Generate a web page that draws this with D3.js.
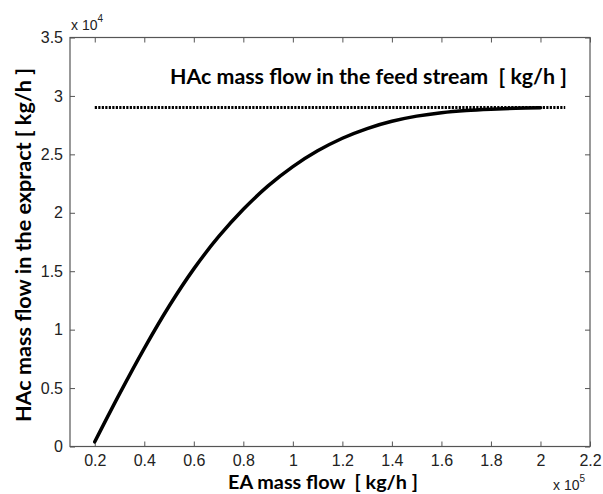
<!DOCTYPE html>
<html>
<head>
<meta charset="utf-8">
<script src="https://cdn.jsdelivr.net/npm/d3@7"></script>
<style>
  body { margin: 0; background: #fff; }
  svg { display: block; }
</style>
</head>
<body>
<div id="chart"></div>
<script>
// EA mass flow (x 10^5 kg/h) vs HAc mass flow in extract (x 10^4 kg/h)
var eaFlow  = [0.2, 0.3, 0.4, 0.5, 0.6, 0.7, 0.8, 0.9, 1.0, 1.1, 1.2, 1.3, 1.4, 1.5, 1.6, 1.7, 1.8, 1.9, 2.0];
var hacFlow = [0.04, 0.45, 0.84, 1.20, 1.52, 1.795, 2.03, 2.23, 2.395, 2.53, 2.638, 2.721, 2.783, 2.827, 2.857, 2.876, 2.887, 2.894, 2.899];
// feed stream reference line
var feedX = [0.2, 2.1];
var feedY = 2.9;

var xTicks = [0.2, 0.4, 0.6, 0.8, 1, 1.2, 1.4, 1.6, 1.8, 2, 2.2];
var yTicks = [0, 0.5, 1, 1.5, 2, 2.5, 3, 3.5];

var W = 603, H = 494;
var m = {left: 70, top: 37.5, right: 13, bottom: 47.5};
var iw = W - m.left - m.right, ih = H - m.top - m.bottom;

var svg = d3.select("#chart").append("svg")
  .attr("width", W).attr("height", H);

var x = d3.scaleLinear().domain([0.1, 2.2]).range([0, iw]);
var y = d3.scaleLinear().domain([0, 3.5]).range([ih, 0]);

var g = svg.append("g").attr("transform", "translate(" + m.left + "," + m.top + ")");

var tickFont = "'Liberation Sans', Arial, sans-serif";
var boldFont = "Lato, 'Open Sans', sans-serif";
var axisCol = "#555";

function styleAxis(sel, showText) {
  sel.select(".domain").remove();
  sel.selectAll("line").attr("stroke", axisCol);
  sel.selectAll("text")
    .style("font-family", tickFont).style("font-size", "16px").attr("fill", "#222");
  if (!showText) sel.selectAll("text").remove();
}

// bottom / top
g.append("g").attr("transform", "translate(0," + ih + ")")
  .call(d3.axisBottom(x).tickValues(xTicks).tickSize(-5).tickPadding(8).tickFormat(d3.format("")))
  .call(styleAxis, true);
g.append("g")
  .call(d3.axisTop(x).tickValues(xTicks).tickSize(-5).tickFormat(""))
  .call(styleAxis, false);
// left / right
g.append("g")
  .call(d3.axisLeft(y).tickValues(yTicks).tickSize(-5).tickPadding(7).tickFormat(d3.format("")))
  .call(styleAxis, true);
g.append("g").attr("transform", "translate(" + iw + ",0)")
  .call(d3.axisRight(y).tickValues(yTicks).tickSize(-5).tickFormat(""))
  .call(styleAxis, false);

// box
g.append("rect").attr("x", 0).attr("y", 0).attr("width", iw).attr("height", ih)
  .attr("fill", "none").attr("stroke", axisCol).attr("stroke-width", 1.2);

// feed line (dotted)
g.append("line")
  .attr("x1", x(feedX[0])).attr("x2", x(feedX[1]))
  .attr("y1", y(feedY)).attr("y2", y(feedY))
  .attr("stroke", "#000").attr("stroke-width", 3)
  .attr("stroke-dasharray", "2.2,1.3");

// extract curve
var line = d3.line()
  .x(function(d, i) { return x(eaFlow[i]); })
  .y(function(d) { return y(d); })
  .curve(d3.curveCatmullRom);
g.append("path").datum(hacFlow)
  .attr("d", line)
  .attr("fill", "none").attr("stroke", "#000").attr("stroke-width", 3.5)
  .attr("stroke-linecap", "round");

// annotation
g.append("text")
  .attr("x", 100).attr("y", 46.5)
  .attr("textLength", 397).attr("lengthAdjust", "spacingAndGlyphs")
  .style("font-family", boldFont).style("font-weight", "bold").style("font-size", "21px")
  .attr("xml:space", "preserve")
  .text("HAc mass flow in the feed stream  [ kg/h ]");

// axis labels
svg.append("text")
  .attr("x", 228).attr("y", 489)
  .attr("textLength", 190).attr("lengthAdjust", "spacingAndGlyphs")
  .attr("xml:space", "preserve")
  .style("font-family", boldFont).style("font-weight", "bold").style("font-size", "19px")
  .text("EA mass flow  [ kg/h ]");

svg.append("text")
  .attr("transform", "translate(31,245) rotate(-90)")
  .attr("text-anchor", "middle")
  .attr("textLength", 354).attr("lengthAdjust", "spacingAndGlyphs")
  .style("font-family", boldFont).style("font-weight", "bold").style("font-size", "21px")
  .text("HAc mass flow in the expract [ kg/h ]");

// exponent labels
function expLabel(px, py, p) {
  var t = svg.append("text").attr("x", px).attr("y", py)
    .style("font-family", tickFont).style("font-size", "14px").attr("fill", "#222");
  t.append("tspan").text("x 10");
  t.append("tspan").attr("dy", -8).style("font-size", "10px").text(p);
}
expLabel(71, 30, "4");
expLabel(553, 490, "5");
</script>
</body>
</html>
